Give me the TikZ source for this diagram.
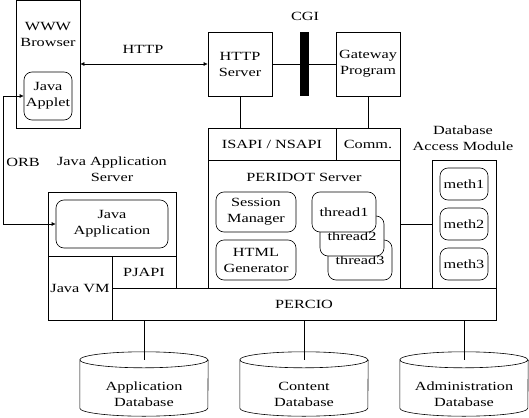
\documentclass[tikz,border=0pt]{standalone}
\usepackage{fontspec}
\setmainfont[FakeStretch=1.3]{Liberation Serif}
\usetikzlibrary{positioning,arrows.meta,shapes.geometric}
\tikzset{
  link/.style={semithick},
  biflow/.style={{Latex[length=4pt,width=4pt]}-{Latex[length=4pt,width=4pt]},semithick},
  box/.style={draw,semithick,inner sep=0pt,align=center},
  softbox/.style={box,rounded corners=8pt,fill=white},
  caption/.style={align=center,inner sep=0pt},
  cgibar/.style={fill=black,inner sep=0pt,minimum width=9pt,minimum height=64pt},
  dbase/.style={inner sep=0pt,minimum width=128pt,minimum height=64pt}
}

\begin{document}
\begin{tikzpicture}[x=1pt,y=-1pt,font=\fontsize{12.5}{16}\selectfont]
  \useasboundingbox (0,0) rectangle (529,417);
  % browser side
  \node[box,minimum width=64pt,minimum height=128pt] (browser) at (48,64) {};
  \node[caption] (browsertitle) at (48,34) {WWW\\Browser};
  \node[softbox,minimum width=48pt,minimum height=48pt] (applet) at (48,96) {Java\\Applet};
  \node[caption] (httplabel) at (143,49) {HTTP};
  \node[caption] (orblabel) at (23,162) {ORB};
  % web server and CGI
  \node[box,minimum width=64pt,minimum height=64pt] (httpsrv) at (240,64) {HTTP\\Server};
  \node[box,minimum width=64pt,minimum height=64pt] (gateway) at (368,64) {Gateway\\Program};
  \draw[link] (httpsrv) -- (gateway);
  \node[cgibar] (cgi) at (304.5,64) {};
  \node[caption] (cgilabel) at (305,16) {CGI};
  % PERIDOT server
  \node[box,minimum width=128pt,minimum height=32pt] (isapi) at (272,144) {ISAPI / NSAPI};
  \node[box,minimum width=64pt,minimum height=32pt] (comm) at (368,144) {Comm.};
  \node[box,minimum width=192pt,minimum height=128pt] (peridot) at (304,224) {};
  \node[caption] (peridottitle) at (304,177) {PERIDOT Server};
  \node[softbox,minimum width=80pt,minimum height=40pt] (session) at (256,212) {Session\\Manager};
  \node[softbox,minimum width=80pt,minimum height=40pt] (htmlgen) at (256,260) {HTML\\Generator};
  \node[softbox,minimum width=64pt,minimum height=40pt] (thread3) at (360,260) {thread3};
  \node[softbox,minimum width=64pt,minimum height=40pt] (thread2) at (352,236) {thread2};
  \node[softbox,minimum width=64pt,minimum height=40pt] (thread1) at (344,212) {thread1};
  % database access module
  \node[caption] (dbamtitle) at (463,138) {Database\\Access Module};
  \node[box,minimum width=64pt,minimum height=128pt] (dbam) at (464,224) {};
  \node[softbox,minimum width=48pt,minimum height=32pt] (meth1) at (464,184) {meth1};
  \node[softbox,minimum width=48pt,minimum height=32pt] (meth2) at (464,224) {meth2};
  \node[softbox,minimum width=48pt,minimum height=32pt] (meth3) at (464,264) {meth3};
  % java application server
  \node[caption] (jastitle) at (112,169) {Java Application\\Server};
  \node[box,minimum width=128pt,minimum height=64pt] (jas) at (112,224) {};
  \node[softbox,minimum width=112pt,minimum height=48pt] (javaapp) at (112,224) {Java\\Application};
  \node[box,minimum width=64pt,minimum height=64pt] (javavm) at (80,288) {Java VM};
  \node[box,minimum width=64pt,minimum height=32pt] (pjapi) at (144,272) {PJAPI};
  \node[box,minimum width=384pt,minimum height=32pt] (percio) at (304,304) {PERCIO};
  % databases
  \node[dbase] (appdb) at (144,384) {};
  \node[dbase] (contentdb) at (304,384) {};
  \node[dbase] (admindb) at (464,384) {};
  \foreach \db in {appdb,contentdb,admindb}{
    \draw[semithick] ([yshift=-8pt]\db.north west)
      arc[start angle=180,end angle=-180,x radius=64pt,y radius=8pt]
      -- ([yshift=8pt]\db.south west)
      arc[start angle=180,end angle=360,x radius=64pt,y radius=8pt]
      -- ([yshift=-8pt]\db.north east);
  }
  \node[caption] (appdbtext) at (144,394) {Application\\Database};
  \node[caption] (contentdbtext) at (304,394) {Content\\Database};
  \node[caption] (admindbtext) at (464,394) {Administration\\Database};
  % connectors
  \coordinate (orbtop) at (3,96);
  \coordinate (orbbottom) at (3,224);
  \draw[biflow] (browser) -- (httpsrv);
  \draw[biflow] (applet.west) -- (orbtop) -- (orbbottom) -- (javaapp.west);
  \draw[link] (httpsrv) -- (httpsrv |- isapi.north);
  \draw[link] (gateway) -- (comm);
  \draw[link] (peridot) -- (dbam);
  \draw[link] (percio.south -| appdb) -- ([yshift=-8pt]appdb.north);
  \draw[link] (percio.south -| contentdb) -- ([yshift=-8pt]contentdb.north);
  \draw[link] (percio.south -| admindb) -- ([yshift=-8pt]admindb.north);
\end{tikzpicture}
\end{document}
